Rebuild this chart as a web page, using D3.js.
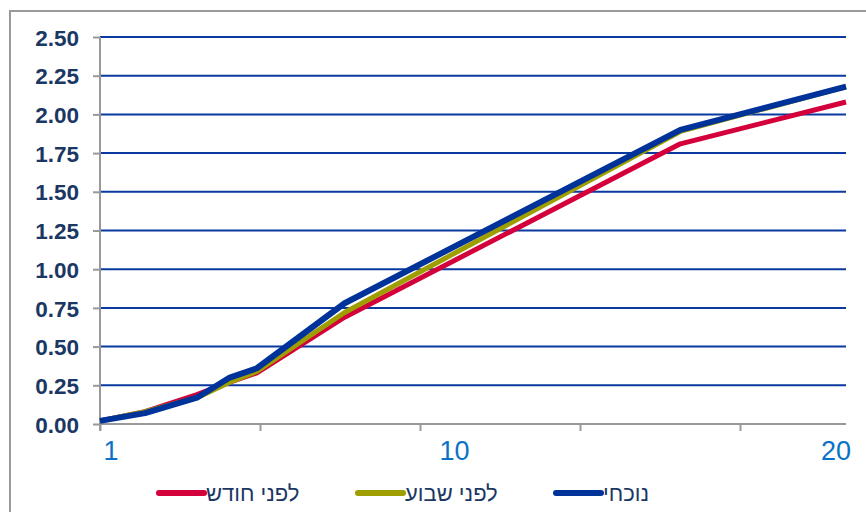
<!DOCTYPE html>
<html>
<head>
<meta charset="utf-8">
<script src="https://cdn.jsdelivr.net/npm/d3@7"></script>
<style>
  html, body { margin: 0; padding: 0; background: #fff; }
  svg { display: block; }
</style>
</head>
<body>
<svg id="chart" width="866" height="512"></svg>
<script>
// Yield curve: term to maturity (years) vs. yield (%)
const maturities = [0.75, 1.93, 3.29, 4.15, 4.86, 7.16, 15.96, 20.3];
const monthAgo   = [0.02, 0.08, 0.19, 0.27, 0.33, 0.69, 1.81, 2.08];
const weekAgo    = [0.02, 0.08, 0.17, 0.27, 0.34, 0.72, 1.89, 2.18];
const current    = [0.02, 0.07, 0.17, 0.30, 0.36, 0.78, 1.90, 2.18];

const seriesNames  = ["לפני חודש", "לפני שבוע", "נוכחי"];
const seriesColors = ["#d4003b", "#9e9e00", "#00339a"];
const yTicks = [0, 0.25, 0.5, 0.75, 1, 1.25, 1.5, 1.75, 2, 2.25, 2.5];
const xLabels = [1, 10, 20];
const xTickStep = 4.193;

const svg = d3.select("#chart");
const plotLeft = 100, plotRight = 846, plotTop = 37, plotBottom = 424;

const x = d3.scaleLinear().domain([0.75, 20.3]).range([plotLeft, plotRight]);
const y = d3.scaleLinear().domain([0, 2.5]).range([plotBottom, plotTop]);

// outer frame
svg.append("rect")
  .attr("x", 10).attr("y", 11).attr("width", 900).attr("height", 600)
  .attr("fill", "none").attr("stroke", "#9a9a9a").attr("stroke-width", 2);

// horizontal gridlines
svg.append("g")
  .selectAll("line")
  .data(yTicks.filter(d => d > 0))
  .join("line")
  .attr("x1", plotLeft).attr("x2", plotRight)
  .attr("y1", d => y(d)).attr("y2", d => y(d))
  .attr("stroke", "#0a39a0").attr("stroke-width", 2);

// y axis
const yAxis = svg.append("g")
  .attr("transform", `translate(${plotLeft},0)`)
  .call(d3.axisLeft(y).tickValues(yTicks).tickSize(7).tickPadding(14).tickFormat(d3.format(".2f")));
yAxis.select(".domain").attr("stroke", "#999").attr("stroke-width", 2)
  .attr("d", `M0,${plotTop}V${plotBottom + 7}`);
yAxis.selectAll(".tick line").attr("stroke", "#999").attr("stroke-width", 2);
yAxis.selectAll(".tick text")
  .attr("fill", "#1b3764")
  .attr("font-family", "'Liberation Sans', Arial, sans-serif")
  .attr("font-weight", "bold")
  .attr("font-size", 22.5)
  .attr("dy", "0.36em");

// x axis (line + tick marks)
const xTickVals = d3.range(x.domain()[0], x.domain()[1], xTickStep);
const xAxis = svg.append("g")
  .attr("transform", `translate(0,${plotBottom})`)
  .call(d3.axisBottom(x).tickValues(xTickVals).tickSize(7).tickFormat(""));
xAxis.select(".domain").attr("stroke", "#999").attr("stroke-width", 2)
  .attr("d", `M${plotLeft},0H${plotRight}`);
xAxis.selectAll(".tick line").attr("stroke", "#999").attr("stroke-width", 2);

// x labels
svg.append("g")
  .selectAll("text")
  .data(xLabels)
  .join("text")
  .attr("x", d => x(d) + 1.5)
  .attr("y", 460)
  .attr("text-anchor", "middle")
  .attr("fill", "#0a72c4")
  .attr("font-family", "'Liberation Sans', Arial, sans-serif")
  .attr("font-size", 27)
  .text(d => d);

// lines
const seriesData = [monthAgo, weekAgo, current];
const widths = [5, 5, 6];
const line = d3.line().x(d => x(d[0])).y(d => y(d[1]));
svg.append("g")
  .selectAll("path")
  .data(seriesData)
  .join("path")
  .attr("d", vals => line(maturities.map((m, i) => [m, vals[i]])))
  .attr("fill", "none")
  .attr("stroke", (d, i) => seriesColors[i])
  .attr("stroke-width", (d, i) => widths[i])
  .attr("stroke-linejoin", "round");

// legend
const legendX = [159, 358, 556];
const lg = svg.append("g")
  .selectAll("g")
  .data(seriesNames)
  .join("g")
  .attr("transform", (d, i) => `translate(${legendX[i]},493)`);
lg.append("line")
  .attr("x1", 0).attr("x2", 45)
  .attr("stroke", (d, i) => seriesColors[i])
  .attr("stroke-width", 6)
  .attr("stroke-linecap", "round");
lg.append("text")
  .attr("x", 47).attr("y", 8)
  .attr("fill", "#1b3764")
  .attr("font-family", "'Liberation Sans', Arial, sans-serif")
  .attr("font-size", 22)
  .text(d => d);
</script>
</body>
</html>
